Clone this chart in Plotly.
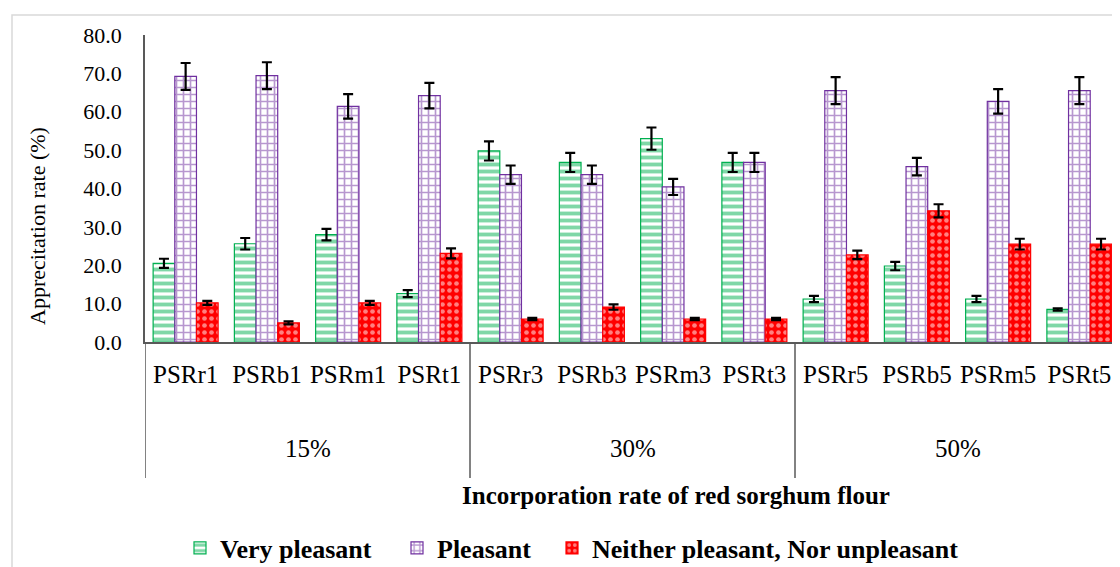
import plotly.graph_objects as go

groups = ["15%", "30%", "50%"]
samples = ["PSRr1", "PSRb1", "PSRm1", "PSRt1",
           "PSRr3", "PSRb3", "PSRm3", "PSRt3",
           "PSRr5", "PSRb5", "PSRm5", "PSRt5"]

very_pleasant = [20.5, 25.6, 28.0, 12.6, 49.8, 46.8, 53.0, 46.8, 11.2, 19.8, 11.2, 8.5]
very_pleasant_err = [1.2, 1.5, 1.5, 0.9, 2.5, 2.5, 2.9, 2.5, 0.8, 1.1, 0.8, 0.3]

pleasant = [69.2, 69.4, 61.4, 64.2, 43.6, 43.6, 40.4, 46.8, 65.5, 45.7, 62.7, 65.5]
pleasant_err = [3.5, 3.5, 3.2, 3.3, 2.4, 2.4, 2.1, 2.5, 3.5, 2.3, 3.2, 3.5]

neither = [10.2, 5.0, 10.2, 23.1, 6.0, 9.1, 6.0, 6.0, 22.7, 34.2, 25.5, 25.5]
neither_err = [0.5, 0.4, 0.5, 1.3, 0.3, 0.7, 0.3, 0.3, 1.1, 1.7, 1.4, 1.4]

y_ticks = [0, 10, 20, 30, 40, 50, 60, 70, 80]

FONT = "Liberation Serif, Times New Roman, serif"
GREEN = "#00B050"
PURPLE = "#7030A0"
RED = "#FF0000"

# the page adds an 8px body margin; work in page pixels and subtract it
OFF = 8
W, H = 1120 - OFF, 567 - OFF
PLOT_L, PLOT_R = 145 - OFF, 1120 - OFF
PLOT_T, PLOT_B = 35 - OFF, 342 - OFF
PW, PH = PLOT_R - PLOT_L, PLOT_B - PLOT_T


def py(pixel):
    return (PLOT_B - (pixel - OFF)) / PH


def px(pixel):
    return ((pixel - OFF) - PLOT_L) / PW


def err(vals):
    return dict(type="data", array=vals, visible=True, color="black", thickness=2.2, width=5)


fig = go.Figure()
fig.add_trace(go.Bar(
    name="Very pleasant", x=samples, y=very_pleasant, error_y=err(very_pleasant_err),
    legend="legend",
    marker=dict(color="white", line=dict(color=GREEN, width=1.2),
                pattern=dict(shape="-", fgcolor=GREEN, bgcolor="white", size=7, solidity=0.55)),
))
fig.add_trace(go.Bar(
    name="Pleasant", x=samples, y=pleasant, error_y=err(pleasant_err),
    legend="legend2",
    marker=dict(color="white", line=dict(color=PURPLE, width=1.2),
                pattern=dict(shape="+", fgcolor=PURPLE, bgcolor="white", size=7, solidity=0.42)),
))
fig.add_trace(go.Bar(
    name="Neither pleasant, Nor unpleasant", x=samples, y=neither, error_y=err(neither_err),
    legend="legend3",
    marker=dict(color=RED, line=dict(color=RED, width=1.2),
                pattern=dict(shape=".", fgcolor="white", bgcolor=RED, size=7, solidity=0.35)),
))

shapes = []
for xv in [-0.5, 3.5, 7.5]:
    shapes.append(dict(type="line", xref="x", yref="paper", x0=xv, x1=xv,
                       y0=0, y1=py(478), line=dict(color="#595959", width=1.5)))
shapes.append(dict(type="rect", xref="paper", yref="paper", x0=px(12), x1=1.2,
                   y0=py(700), y1=py(15), line=dict(color="#D9D9D9", width=1.5),
                   layer="below"))

annotations = []
for i, g in enumerate(groups):
    annotations.append(dict(text=g, x=4 * i + 1.5, xref="x", y=py(448), yref="paper",
                            showarrow=False, font=dict(family=FONT, size=25, color="black"),
                            xanchor="center", yanchor="middle"))
annotations.append(dict(text="<b>Incorporation rate of red sorghum flour</b>",
                        x=px(676), xref="paper", y=py(495), yref="paper", showarrow=False,
                        font=dict(family=FONT, size=25, color="black"),
                        xanchor="center", yanchor="middle"))
annotations.append(dict(text="Apprecitation rate (%)", x=px(37), xref="paper",
                        y=py(226), yref="paper", showarrow=False, textangle=-90,
                        font=dict(family=FONT, size=22, color="black"),
                        xanchor="center", yanchor="middle"))


def legend_at(text_left_px):
    return dict(orientation="h", x=px(text_left_px - 40), xanchor="left", y=py(548),
                yanchor="middle", font=dict(family=FONT, size=26, color="black", weight="bold"),
                itemwidth=30, bgcolor="rgba(0,0,0,0)", borderwidth=0)


fig.update_layout(
    width=W, height=H,
    margin=dict(l=PLOT_L, r=W - PLOT_R, t=PLOT_T, b=H - PLOT_B, autoexpand=False),
    paper_bgcolor="white", plot_bgcolor="white",
    barmode="group", bargap=0.2, bargroupgap=0.0,
    font=dict(family=FONT, color="black"),
    shapes=shapes, annotations=annotations,
    legend=legend_at(220),
    legend2=legend_at(437),
    legend3=legend_at(592),
    showlegend=True,
)
fig.update_xaxes(
    type="category", categoryorder="array", categoryarray=samples,
    range=[-0.5, 11.5], showline=True, linecolor="#595959", linewidth=1.5,
    ticks="", showgrid=False, zeroline=False,
    tickfont=dict(family=FONT, size=25, color="black"), ticklabelstandoff=9,
)
fig.update_yaxes(
    range=[0, 80], tickvals=y_ticks, tickformat=".1f",
    showline=True, linecolor="#595959", linewidth=1.5,
    ticks="", showgrid=False, zeroline=False,
    tickfont=dict(family=FONT, size=22, color="black"), ticklabelstandoff=17,
)

fig.write_html("out.html")
